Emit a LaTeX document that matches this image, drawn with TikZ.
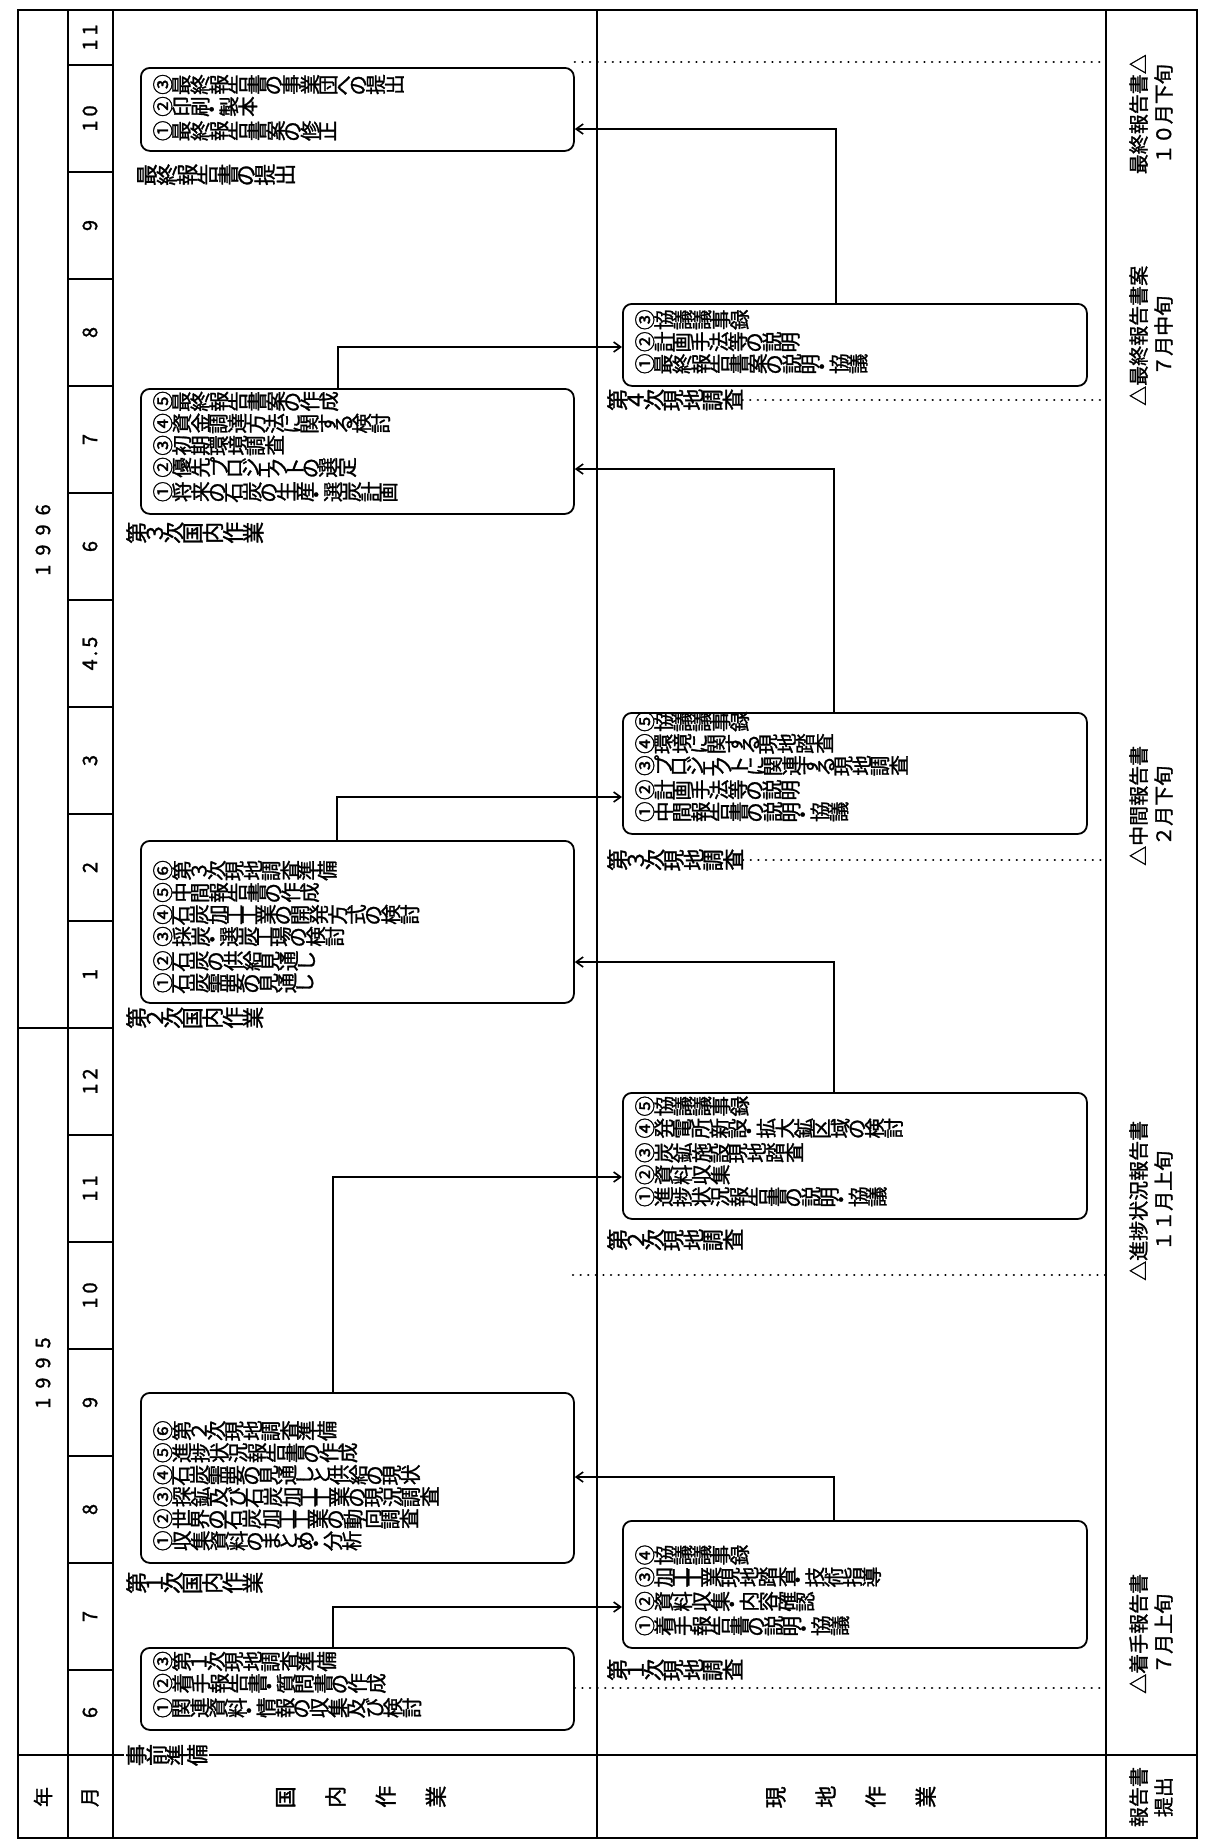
\documentclass[tikz,border=0pt]{standalone}
\usepackage{fontspec}
\setmainfont{Noto Sans CJK JP}[FakeBold=1.3]
\usetikzlibrary{arrows.meta}
\def\vtstop{VTSTOP}
\def\vt#1{\vtloop#1\vtstop}
\def\vtloop#1{\ifx\vtstop#1\else\rotatebox[origin=c]{90}{#1}\expandafter\vtloop\fi}
\begin{document}
\begin{tikzpicture}[x=1pt,y=-1pt,
  frame/.style={line width=2.6pt},
  mline/.style={line width=1.6pt},
  boxs/.style={draw, line width=1.8pt, rounded corners=9pt, inner sep=0pt},
  conn/.style={line width=2.4pt},
  arr/.style={-{Straight Barb[length=7pt,width=10pt,line width=1.6pt]}},
  dots/.style={line width=2.4pt, line cap=round, dash pattern=on 0.1pt off 7.5pt},
  btxt/.style={font=\fontsize{20.5}{22}\selectfont, align=left, inner sep=0pt, anchor=south west},
  lbl/.style={font=\fontsize{22}{24}\selectfont, inner sep=0pt, anchor=west},
  rlbl/.style={font=\fontsize{20}{25}\selectfont, rotate=90, inner sep=0pt, align=center}]
\useasboundingbox (0,0) rectangle (1205,1840);
\fill[white] (0,0) rectangle (1205,1840);
% ---------- frame ----------
\draw[frame] (18,10) rectangle (1197,1838);
\draw[frame] (68,10) -- (68,1838);
\draw[frame] (113,10) -- (113,1838);
\draw[frame] (597,10) -- (597,1838);
\draw[frame] (1106,10) -- (1106,1838);
\draw[mline] (18,1755) -- (1197,1755);
\draw[mline] (18,1028) -- (68,1028);
\foreach \k in {0,...,15} \draw[mline] (68,{1670-107*\k}) -- (113,{1670-107*\k});
% ---------- header labels ----------
\node[rlbl] (hy) at (43,1797) {年};
\node[rlbl] (hm) at (90,1797) {月};
\node[rlbl] (y95) at (43,1373) {1\hspace{9pt}9\hspace{9pt}9\hspace{9pt}5};
\node[rlbl] (y96) at (43,540) {1\hspace{9pt}9\hspace{9pt}9\hspace{9pt}6};
\foreach \yy/\mlab [count=\i] in {1712.5/6, 1616.5/7, 1509.5/8, 1402.5/9, 1295.5/1\hspace{4pt}0, 1188.5/1\hspace{4pt}1, 1081.5/1\hspace{4pt}2, 974.5/1, 867.5/2, 760.5/3, 653.5/4\hspace{3pt}.\hspace{3pt}5, 546.5/6, 439.5/7, 332.5/8, 225.5/9, 118.5/1\hspace{4pt}0, 37.5/1\hspace{4pt}1}
  \node[rlbl] (m\i) at (90,\yy) {\mlab};
\node[lbl, anchor=center] (hd) at (361,1797) {\vt{国}\hspace{30pt}\vt{内}\hspace{30pt}\vt{作}\hspace{30pt}\vt{業}};
\node[lbl, anchor=center] (hf) at (851,1797) {\vt{現}\hspace{30pt}\vt{地}\hspace{30pt}\vt{作}\hspace{30pt}\vt{業}};
\node[rlbl] (hr) at (1151,1797) {報告書\\提出};
\node[lbl, fill=white, inner sep=2pt] (pre) at (124,1755) {\vt{事前準備}};
% ---------- boxes ----------
\node[boxs, anchor=north west, minimum width=433pt, minimum height=82pt] (A) at (140,1647) {};
\node[btxt] (tA) at (153,1721) {\vt{③第１次現地調査準備}\\\vt{②着手報告書・質問書の作成}\\\vt{①関連資料・情報の収集及び検討}};
\node[boxs, anchor=north west, minimum width=433pt, minimum height=170pt] (B) at (140,1392) {};
\node[btxt] (tB) at (153,1554) {\vt{⑥第２次現地調査準備}\\\vt{⑤進捗状況報告書の作成}\\\vt{④石炭需要の見通しと供給の現状}\\\vt{③探鉱及び石炭加工工業の現況調査}\\\vt{②世界の石炭加工工業の動向調査}\\\vt{①収集資料のまとめ・分析}};
\node[boxs, anchor=north west, minimum width=464pt, minimum height=127pt] (C) at (622,1520) {};
\node[btxt] (tC) at (635,1639) {\vt{④協議議事録}\\\vt{③加工工業現地踏査・技術指導}\\\vt{②資料収集・内容確認}\\\vt{①着手報告書の説明・協議}};
\node[boxs, anchor=north west, minimum width=464pt, minimum height=126pt] (D) at (622,1092) {};
\node[btxt] (tD) at (635,1210) {\vt{⑤協議議事録}\\\vt{④発電所新設・拡大鉱区域の検討}\\\vt{③炭鉱施設現地踏査}\\\vt{②資料収集}\\\vt{①進捗状況報告書の説明・協議}};
\node[boxs, anchor=north west, minimum width=433pt, minimum height=162pt] (E) at (140,840) {};
\node[btxt] (tE) at (153,994) {\vt{⑥第３次現地調査準備}\\\vt{⑤中間報告書の作成}\\\vt{④石炭加工工業の開発方式の検討}\\\vt{③採炭・選炭工場の検討}\\\vt{②石炭の供給見通し}\\\vt{①石炭需要の見通し}};
\node[boxs, anchor=north west, minimum width=464pt, minimum height=121pt] (F) at (622,712) {};
\node[btxt] (tF) at (635,825) {\vt{⑤協議議事録}\\\vt{④環境に関する現地踏査}\\\vt{③プロジェクトに関連する現地調査}\\\vt{②計画手法等の説明}\\\vt{①中間報告書の説明・協議}};
\node[boxs, anchor=north west, minimum width=433pt, minimum height=125pt] (G) at (140,388) {};
\node[btxt] (tG) at (153,505) {\vt{⑤最終報告書案の作成}\\\vt{④資金調達方法に関する検討}\\\vt{③初期環境調査}\\\vt{②優先プロジェクトの選定}\\\vt{①将来の石炭の生産・選炭計画}};
\node[boxs, anchor=north west, minimum width=464pt, minimum height=82pt] (H) at (622,303) {};
\node[btxt] (tH) at (635,377) {\vt{③協議議事録}\\\vt{②計画手法等の説明}\\\vt{①最終報告書案の説明・協議}};
\node[boxs, anchor=north west, minimum width=433pt, minimum height=83pt] (I) at (140,67) {};
\node[btxt] (tI) at (153,142) {\vt{③最終報告書の事業団への提出}\\\vt{②印刷・製本}\\\vt{①最終報告書案の修正}};
% ---------- phase labels ----------
\node[lbl] (l1d) at (126,1583) {\vt{第１次国内作業}};
\node[lbl] (l1f) at (607,1670) {\vt{第１次現地調査}};
\node[lbl] (l2d) at (126,1018) {\vt{第２次国内作業}};
\node[lbl] (l2f) at (607,1240) {\vt{第２次現地調査}};
\node[lbl] (l3d) at (126,533) {\vt{第３次国内作業}};
\node[lbl] (l3f) at (607,860) {\vt{第３次現地調査}};
\node[lbl] (l4f) at (607,400) {\vt{第４次現地調査}};
\node[lbl] (lfin) at (137,175) {\vt{最終報告書の提出}};
% ---------- connectors ----------
\coordinate (c1) at (333,1607);
\coordinate (c2) at (834,1477);
\coordinate (c3) at (333,1177);
\coordinate (c4) at (834,962);
\coordinate (c5) at (337,797);
\coordinate (c6) at (834,469);
\coordinate (c7) at (338,347);
\coordinate (c8) at (836,129);
\draw[conn,arr] (A.north -| c1) |- (C.west |- c1);
\draw[conn,arr] (C.north -| c2) |- (B.east |- c2);
\draw[conn,arr] (B.north -| c3) |- (D.west |- c3);
\draw[conn,arr] (D.north -| c4) |- (E.east |- c4);
\draw[conn,arr] (E.north -| c5) |- (F.west |- c5);
\draw[conn,arr] (F.north -| c6) |- (G.east |- c6);
\draw[conn,arr] (G.north -| c7) |- (H.west |- c7);
\draw[conn,arr] (H.north -| c8) |- (I.east |- c8);
% ---------- report timing dotted lines ----------
\coordinate (s1) at (1106,1688);
\coordinate (s2) at (1106,1275);
\coordinate (d2) at (573,1275);
\coordinate (s3) at (1106,860);
\coordinate (s4) at (1106,400);
\coordinate (s5) at (1106,62);
\draw[dots] (A.east |- s1) -- (s1);
\draw[dots] (d2) -- (s2);
\draw[dots] (l3f.east) -- (s3);
\draw[dots] (l4f.east) -- (s4);
\draw[dots] (I.east |- s5) -- (s5);
% ---------- report strip ----------
\node[rlbl, anchor=west] (r1) at (1151,1694) {△着手報告書\\７月上旬};
\node[rlbl, anchor=west] (r2) at (1151,1281) {△進捗状況報告書\\１１月上旬};
\node[rlbl, anchor=west] (r3) at (1151,866) {△中間報告書\\２月下旬};
\node[rlbl, anchor=west] (r4) at (1151,406) {△最終報告書案\\７月中旬};
\node[rlbl, anchor=east] (r5) at (1151,54) {最終報告書△\\１０月下旬};
\end{tikzpicture}
\end{document}
